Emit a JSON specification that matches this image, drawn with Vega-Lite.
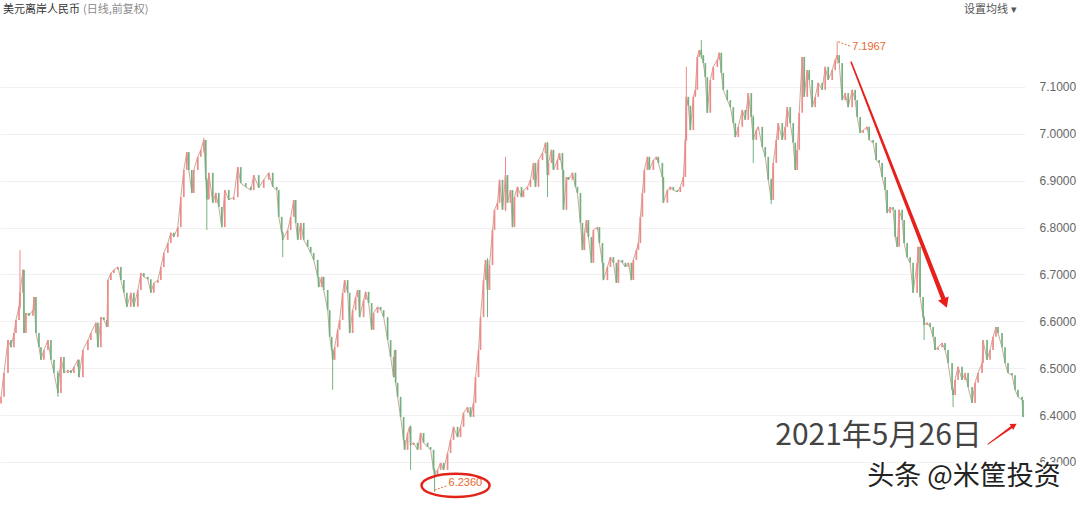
{
"$schema":"https://vega.github.io/schema/vega-lite/v6.json",
"width":1025,"height":486,
"autosize":{"type":"none"},
"padding":{"left":0,"top":20,"right":55,"bottom":0},
"background":"white",
"config":{"view":{"stroke":null},"font":"Noto Sans CJK SC",
 "axisY":{"orient":"right","format":".4f","grid":true,"gridColor":"#f0f0f0","gridWidth":1,"domain":false,"ticks":false,"tickSize":0,"labelPadding":14,"labelColor":"#666666","labelFont":"Liberation Sans","labelFontSize":12,"labelAlign":"left","labelBaseline":"middle","title":null}},
"datasets":{"k":[
{"x":0,"o":6.425,"c":6.439},{"x":3,"o":6.439,"c":6.490},{"x":7,"o":6.490,"c":6.560},{"x":10,"o":6.560,"c":6.545},{"x":13,"o":6.545,"c":6.575},{"x":15,"o":6.575,"c":6.603},{"x":18,"o":6.603,"c":6.631},{"x":19,"o":6.631,"c":6.661,"h":6.752,"l":6.625},{"x":22,"o":6.661,"c":6.710},{"x":23,"o":6.710,"c":6.575},{"x":25,"o":6.575,"c":6.618},{"x":28,"o":6.618,"c":6.612},{"x":32,"o":6.612,"c":6.624},{"x":33,"o":6.624,"c":6.652},{"x":35,"o":6.652,"c":6.575},{"x":38,"o":6.575,"c":6.545},{"x":40,"o":6.545,"c":6.518},{"x":43,"o":6.518,"c":6.539},{"x":47,"o":6.539,"c":6.560},{"x":50,"o":6.560,"c":6.518},{"x":53,"o":6.518,"c":6.490},{"x":57,"o":6.490,"c":6.447,"h":6.495,"l":6.439},{"x":60,"o":6.447,"c":6.524},{"x":63,"o":6.524,"c":6.490},{"x":67,"o":6.490,"c":6.496},{"x":70,"o":6.496,"c":6.490},{"x":73,"o":6.490,"c":6.503},{"x":77,"o":6.503,"c":6.518},{"x":78,"o":6.518,"c":6.481},{"x":82,"o":6.481,"c":6.539},{"x":87,"o":6.539,"c":6.560},{"x":90,"o":6.560,"c":6.575},{"x":95,"o":6.575,"c":6.597},{"x":97,"o":6.597,"c":6.545},{"x":100,"o":6.545,"c":6.609},{"x":103,"o":6.609,"c":6.603},{"x":106,"o":6.603,"c":6.588},{"x":107,"o":6.588,"c":6.688},{"x":110,"o":6.688,"c":6.703},{"x":113,"o":6.703,"c":6.710},{"x":117,"o":6.710,"c":6.716},{"x":120,"o":6.716,"c":6.688},{"x":123,"o":6.688,"c":6.661},{"x":126,"o":6.661,"c":6.631},{"x":130,"o":6.631,"c":6.661},{"x":133,"o":6.661,"c":6.631},{"x":137,"o":6.631,"c":6.667},{"x":140,"o":6.667,"c":6.703},{"x":143,"o":6.703,"c":6.695},{"x":147,"o":6.695,"c":6.690},{"x":150,"o":6.690,"c":6.661},{"x":153,"o":6.661,"c":6.682},{"x":157,"o":6.682,"c":6.688},{"x":160,"o":6.688,"c":6.716},{"x":163,"o":6.716,"c":6.746},{"x":167,"o":6.746,"c":6.767},{"x":170,"o":6.767,"c":6.789},{"x":173,"o":6.789,"c":6.780},{"x":177,"o":6.780,"c":6.801},{"x":180,"o":6.801,"c":6.865},{"x":183,"o":6.865,"c":6.923},{"x":186,"o":6.923,"c":6.961},{"x":188,"o":6.961,"c":6.923},{"x":191,"o":6.923,"c":6.874},{"x":193,"o":6.874,"c":6.923},{"x":197,"o":6.923,"c":6.951},{"x":200,"o":6.951,"c":6.966},{"x":203,"o":6.966,"c":6.987,"h":6.992,"l":6.960},{"x":205,"o":6.987,"c":6.902},{"x":206,"o":6.902,"c":6.860,"h":6.905,"l":6.795},{"x":208,"o":6.860,"c":6.917},{"x":212,"o":6.917,"c":6.853},{"x":215,"o":6.853,"c":6.874},{"x":218,"o":6.874,"c":6.844},{"x":221,"o":6.844,"c":6.801},{"x":224,"o":6.801,"c":6.880},{"x":228,"o":6.880,"c":6.859},{"x":233,"o":6.859,"c":6.865},{"x":237,"o":6.865,"c":6.929},{"x":240,"o":6.929,"c":6.895},{"x":245,"o":6.895,"c":6.887},{"x":250,"o":6.887,"c":6.880},
{"x":253,"o":6.880,"c":6.912},{"x":258,"o":6.912,"c":6.885},{"x":263,"o":6.885,"c":6.902},{"x":268,"o":6.902,"c":6.917},{"x":272,"o":6.917,"c":6.887},{"x":276,"o":6.887,"c":6.880},{"x":278,"o":6.880,"c":6.823},{"x":281,"o":6.823,"c":6.789},{"x":282,"o":6.789,"c":6.774,"h":6.792,"l":6.737},{"x":287,"o":6.774,"c":6.795},{"x":290,"o":6.795,"c":6.823},{"x":293,"o":6.823,"c":6.859},{"x":295,"o":6.859,"c":6.810},{"x":297,"o":6.810,"c":6.774},{"x":300,"o":6.774,"c":6.810},{"x":303,"o":6.810,"c":6.774},{"x":307,"o":6.774,"c":6.759},{"x":310,"o":6.759,"c":6.746},{"x":313,"o":6.746,"c":6.731},{"x":317,"o":6.731,"c":6.695},{"x":318,"o":6.695,"c":6.673},{"x":321,"o":6.673,"c":6.695},{"x":323,"o":6.695,"c":6.667},{"x":327,"o":6.667,"c":6.624},{"x":329,"o":6.624,"c":6.567},{"x":331,"o":6.567,"c":6.539},{"x":332,"o":6.539,"c":6.518,"h":6.541,"l":6.454},{"x":334,"o":6.518,"c":6.545},{"x":337,"o":6.545,"c":6.582},{"x":339,"o":6.582,"c":6.603},{"x":342,"o":6.603,"c":6.661},{"x":344,"o":6.661,"c":6.688},{"x":347,"o":6.688,"c":6.661},{"x":349,"o":6.661,"c":6.575},{"x":352,"o":6.575,"c":6.624},{"x":355,"o":6.624,"c":6.652},{"x":357,"o":6.652,"c":6.667},{"x":359,"o":6.667,"c":6.609},{"x":363,"o":6.609,"c":6.646},{"x":365,"o":6.646,"c":6.663},{"x":368,"o":6.663,"c":6.639},{"x":371,"o":6.639,"c":6.582},{"x":373,"o":6.582,"c":6.618},{"x":377,"o":6.618,"c":6.631},{"x":380,"o":6.631,"c":6.624},{"x":383,"o":6.624,"c":6.609},{"x":387,"o":6.609,"c":6.560},{"x":390,"o":6.560,"c":6.524},{"x":393,"o":6.524,"c":6.481},{"x":394,"o":6.481,"c":6.539},{"x":395,"o":6.539,"c":6.469},{"x":397,"o":6.469,"c":6.439},{"x":400,"o":6.439,"c":6.396},{"x":403,"o":6.396,"c":6.347},{"x":404,"o":6.347,"c":6.326},{"x":407,"o":6.326,"c":6.362},{"x":409,"o":6.362,"c":6.375},{"x":410,"o":6.375,"c":6.336,"h":6.378,"l":6.283},{"x":413,"o":6.336,"c":6.341},{"x":417,"o":6.341,"c":6.326},{"x":420,"o":6.326,"c":6.362},{"x":423,"o":6.362,"c":6.341},{"x":427,"o":6.341,"c":6.332},{"x":430,"o":6.332,"c":6.326},{"x":433,"o":6.326,"c":6.283},{"x":434,"o":6.283,"c":6.272,"h":6.286,"l":6.236},{"x":437,"o":6.272,"c":6.283},{"x":440,"o":6.283,"c":6.298},{"x":443,"o":6.298,"c":6.283},{"x":447,"o":6.283,"c":6.319},{"x":450,"o":6.319,"c":6.347},{"x":453,"o":6.347,"c":6.375},{"x":457,"o":6.375,"c":6.353},{"x":460,"o":6.353,"c":6.375},{"x":463,"o":6.375,"c":6.405},{"x":467,"o":6.405,"c":6.417},{"x":470,"o":6.417,"c":6.396},{"x":473,"o":6.396,"c":6.426},{"x":475,"o":6.426,"c":6.481},{"x":478,"o":6.481,"c":6.539},{"x":480,"o":6.539,"c":6.609},{"x":483,"o":6.609,"c":6.688},{"x":485,"o":6.688,"c":6.731},{"x":487,"o":6.731,"c":6.667,"h":6.735,"l":6.609},{"x":489,"o":6.667,"c":6.720},{"x":492,"o":6.720,"c":6.795},{"x":494,"o":6.795,"c":6.838},{"x":497,"o":6.838,"c":6.853},{"x":499,"o":6.853,"c":6.902},{"x":502,"o":6.902,"c":6.838},{"x":505,"o":6.838,"c":6.912,"h":6.951,"l":6.835},{"x":507,"o":6.912,"c":6.853},
{"x":510,"o":6.853,"c":6.880},{"x":512,"o":6.880,"c":6.801},{"x":514,"o":6.801,"c":6.865},{"x":517,"o":6.865,"c":6.887},{"x":521,"o":6.887,"c":6.865},{"x":523,"o":6.865,"c":6.880},{"x":527,"o":6.880,"c":6.887},{"x":530,"o":6.887,"c":6.902},{"x":533,"o":6.902,"c":6.938},{"x":535,"o":6.938,"c":6.887},{"x":538,"o":6.887,"c":6.944},{"x":542,"o":6.944,"c":6.959},{"x":545,"o":6.959,"c":6.981},{"x":547,"o":6.981,"c":6.912,"h":6.983,"l":6.865},{"x":548,"o":6.912,"c":6.938},{"x":551,"o":6.938,"c":6.966},{"x":553,"o":6.966,"c":6.923},{"x":557,"o":6.923,"c":6.944},{"x":559,"o":6.944,"c":6.959},{"x":562,"o":6.959,"c":6.923},{"x":563,"o":6.923,"c":6.838},{"x":566,"o":6.838,"c":6.908},{"x":568,"o":6.908,"c":6.902},{"x":572,"o":6.902,"c":6.917},{"x":575,"o":6.917,"c":6.887},{"x":577,"o":6.887,"c":6.874},{"x":580,"o":6.874,"c":6.810},{"x":582,"o":6.810,"c":6.752},{"x":584,"o":6.752,"c":6.789},{"x":586,"o":6.789,"c":6.816},{"x":588,"o":6.816,"c":6.780},{"x":591,"o":6.780,"c":6.725},{"x":593,"o":6.725,"c":6.795},{"x":597,"o":6.795,"c":6.801},{"x":599,"o":6.801,"c":6.767},{"x":602,"o":6.767,"c":6.725},{"x":603,"o":6.725,"c":6.688},{"x":607,"o":6.688,"c":6.716},{"x":610,"o":6.716,"c":6.737},{"x":613,"o":6.737,"c":6.725},{"x":616,"o":6.725,"c":6.682},{"x":618,"o":6.682,"c":6.731},{"x":622,"o":6.731,"c":6.725},{"x":625,"o":6.725,"c":6.716},{"x":628,"o":6.716,"c":6.725},{"x":631,"o":6.725,"c":6.688},{"x":633,"o":6.688,"c":6.731},{"x":636,"o":6.731,"c":6.752},{"x":638,"o":6.752,"c":6.767},{"x":640,"o":6.767,"c":6.823},{"x":642,"o":6.823,"c":6.874},{"x":644,"o":6.874,"c":6.923},{"x":647,"o":6.923,"c":6.951},{"x":649,"o":6.951,"c":6.923},{"x":653,"o":6.923,"c":6.944},{"x":656,"o":6.944,"c":6.951},{"x":658,"o":6.951,"c":6.938},{"x":662,"o":6.938,"c":6.908},{"x":663,"o":6.908,"c":6.853},{"x":667,"o":6.853,"c":6.880},{"x":670,"o":6.880,"c":6.887},{"x":673,"o":6.887,"c":6.880},{"x":677,"o":6.880,"c":6.876},{"x":680,"o":6.876,"c":6.887},{"x":683,"o":6.887,"c":6.908},{"x":685,"o":6.908,"c":6.987},{"x":686,"o":6.987,"c":7.079,"h":7.143,"l":6.985},{"x":688,"o":7.079,"c":7.060},{"x":690,"o":7.060,"c":7.008},{"x":693,"o":7.008,"c":7.079},{"x":695,"o":7.079,"c":7.094},{"x":697,"o":7.094,"c":7.164},{"x":699,"o":7.164,"c":7.179},{"x":701,"o":7.179,"c":7.168,"h":7.200,"l":7.160},{"x":703,"o":7.168,"c":7.151},{"x":705,"o":7.151,"c":7.121},{"x":707,"o":7.121,"c":7.045},{"x":710,"o":7.045,"c":7.115},{"x":713,"o":7.115,"c":7.143},{"x":717,"o":7.143,"c":7.158},{"x":719,"o":7.158,"c":7.173},{"x":721,"o":7.173,"c":7.130},{"x":723,"o":7.130,"c":7.094},{"x":727,"o":7.094,"c":7.072},{"x":730,"o":7.072,"c":7.057},{"x":733,"o":7.057,"c":7.023},{"x":735,"o":7.023,"c":6.993},{"x":738,"o":6.993,"c":7.015},{"x":742,"o":7.015,"c":7.051},{"x":745,"o":7.051,"c":7.030},{"x":748,"o":7.030,"c":7.087},{"x":751,"o":7.087,"c":7.036},{"x":753,"o":7.036,"c":6.987,"h":7.040,"l":6.938},{"x":756,"o":6.987,"c":7.008},
{"x":758,"o":7.008,"c":7.015},{"x":762,"o":7.015,"c":6.972},{"x":765,"o":6.972,"c":6.951},{"x":768,"o":6.951,"c":6.902},{"x":771,"o":6.902,"c":6.859,"h":6.905,"l":6.850},{"x":773,"o":6.859,"c":6.938},{"x":776,"o":6.938,"c":6.987},{"x":778,"o":6.987,"c":7.023},{"x":782,"o":7.023,"c":6.987},{"x":785,"o":6.987,"c":7.015},{"x":787,"o":7.015,"c":7.057},{"x":790,"o":7.057,"c":7.023},{"x":793,"o":7.023,"c":6.981},{"x":795,"o":6.981,"c":6.923},{"x":797,"o":6.923,"c":6.966},{"x":799,"o":6.966,"c":7.045},{"x":802,"o":7.045,"c":7.164},{"x":804,"o":7.164,"c":7.079},{"x":807,"o":7.079,"c":7.136},{"x":809,"o":7.136,"c":7.115},{"x":812,"o":7.115,"c":7.057},{"x":815,"o":7.057,"c":7.079},{"x":818,"o":7.079,"c":7.109},{"x":822,"o":7.109,"c":7.094},{"x":825,"o":7.094,"c":7.143},{"x":828,"o":7.143,"c":7.115},{"x":832,"o":7.115,"c":7.136},{"x":835,"o":7.136,"c":7.158},{"x":837,"o":7.158,"c":7.168,"h":7.1967,"l":7.150},{"x":839,"o":7.168,"c":7.151},{"x":842,"o":7.151,"c":7.072},{"x":845,"o":7.072,"c":7.087},{"x":848,"o":7.087,"c":7.057},{"x":852,"o":7.057,"c":7.094},{"x":855,"o":7.094,"c":7.072},{"x":857,"o":7.072,"c":7.036},{"x":860,"o":7.036,"c":7.002},{"x":863,"o":7.002,"c":7.008},{"x":867,"o":7.008,"c":7.015},{"x":869,"o":7.015,"c":6.987},{"x":873,"o":6.987,"c":6.981},{"x":876,"o":6.981,"c":6.944},{"x":879,"o":6.944,"c":6.938},{"x":882,"o":6.938,"c":6.908},{"x":885,"o":6.908,"c":6.880},{"x":887,"o":6.880,"c":6.831},{"x":890,"o":6.831,"c":6.844},{"x":893,"o":6.844,"c":6.838},{"x":895,"o":6.838,"c":6.780},{"x":897,"o":6.780,"c":6.759},{"x":899,"o":6.759,"c":6.838},{"x":902,"o":6.838,"c":6.816},{"x":904,"o":6.816,"c":6.767},{"x":907,"o":6.767,"c":6.737},{"x":910,"o":6.737,"c":6.725},{"x":913,"o":6.725,"c":6.661},{"x":917,"o":6.661,"c":6.725},{"x":918,"o":6.725,"c":6.759},{"x":920,"o":6.759,"c":6.652},{"x":923,"o":6.652,"c":6.609},{"x":924,"o":6.609,"c":6.592,"h":6.612,"l":6.560},{"x":927,"o":6.592,"c":6.597},{"x":930,"o":6.597,"c":6.588},{"x":933,"o":6.588,"c":6.567},{"x":935,"o":6.567,"c":6.539},{"x":938,"o":6.539,"c":6.545},{"x":942,"o":6.545,"c":6.554},{"x":945,"o":6.554,"c":6.539},{"x":948,"o":6.539,"c":6.511},{"x":952,"o":6.511,"c":6.454},{"x":953,"o":6.454,"c":6.443,"h":6.456,"l":6.417},{"x":955,"o":6.443,"c":6.475},{"x":958,"o":6.475,"c":6.503},{"x":962,"o":6.503,"c":6.475},{"x":965,"o":6.475,"c":6.490},{"x":968,"o":6.490,"c":6.460},{"x":972,"o":6.460,"c":6.426},{"x":975,"o":6.426,"c":6.469},{"x":978,"o":6.469,"c":6.490},{"x":982,"o":6.490,"c":6.511},{"x":983,"o":6.511,"c":6.560},{"x":987,"o":6.560,"c":6.518},{"x":990,"o":6.518,"c":6.539},{"x":993,"o":6.539,"c":6.567},{"x":996,"o":6.567,"c":6.588},{"x":998,"o":6.588,"c":6.575},{"x":1002,"o":6.575,"c":6.545},{"x":1005,"o":6.545,"c":6.511},{"x":1008,"o":6.511,"c":6.490},{"x":1012,"o":6.490,"c":6.485},{"x":1015,"o":6.485,"c":6.454},{"x":1018,"o":6.454,"c":6.439},{"x":1022,"o":6.439,"c":6.432},{"x":1023,"o":6.432,"c":6.396}
]},
"layer":[
{"data":{"name":"k"},
 "mark":{"type":"line","strokeWidth":1,"color":"#c9a898"},
 "encoding":{"x":{"field":"x","type":"quantitative","scale":{"domain":[-1,1025],"nice":false,"zero":false},"axis":null},
 "y":{"field":"c","type":"quantitative","scale":{"domain":[6.2061,7.2429],"nice":false,"zero":false},
  "axis":{"values":[6.3,6.4,6.5,6.6,6.7,6.8,6.9,7.0,7.1],"title":null}}}},
{"data":{"name":"k"},
 "mark":{"type":"rule","strokeWidth":1.7},
 "encoding":{"x":{"field":"x","type":"quantitative","scale":{"domain":[-1,1025],"nice":false,"zero":false},"axis":null},
 "y":{"field":"o","type":"quantitative","scale":{"domain":[6.2061,7.2429],"nice":false,"zero":false},
  "axis":{"values":[6.3,6.4,6.5,6.6,6.7,6.8,6.9,7.0,7.1],"title":null}},
 "y2":{"field":"c"},
 "color":{"condition":{"test":"datum.c>=datum.o","value":"#ee8a88"},"value":"#72b281"}}},
{"data":{"name":"k"},"transform":[{"filter":"isValid(datum.h)"}],
 "mark":{"type":"rule","strokeWidth":1},
 "encoding":{"x":{"field":"x","type":"quantitative","scale":{"domain":[-1,1025],"nice":false,"zero":false},"axis":null},
 "y":{"field":"l","type":"quantitative","scale":{"domain":[6.2061,7.2429],"nice":false,"zero":false},"axis":{"values":[6.3,6.4,6.5,6.6,6.7,6.8,6.9,7.0,7.1],"title":null}},"y2":{"field":"h"},
 "color":{"condition":{"test":"datum.c>=datum.o","value":"#ee8a88"},"value":"#72b281"}}},
{"mark":{"type":"rule","color":"#eeeeee","strokeWidth":1},
 "encoding":{"x":{"datum":0,"type":"quantitative","scale":{"domain":[-1,1025],"nice":false,"zero":false},"axis":null},"x2":{"datum":1017},
 "y":{"datum":7.2429,"type":"quantitative","scale":{"domain":[6.2061,7.2429],"nice":false,"zero":false},"axis":{"values":[6.3,6.4,6.5,6.6,6.7,6.8,6.9,7.0,7.1],"title":null}}}},
{"mark":{"type":"rule","color":"#e6e6e6","strokeWidth":1},
 "encoding":{"x":{"datum":1025,"type":"quantitative","scale":{"domain":[-1,1025],"nice":false,"zero":false},"axis":null},
 "y":{"datum":7.2856,"type":"quantitative","scale":{"domain":[6.2061,7.2429],"nice":false,"zero":false},"axis":{"values":[6.3,6.4,6.5,6.6,6.7,6.8,6.9,7.0,7.1],"title":null}},"y2":{"datum":6.2061}}},
{"data":{"values":[{"x":838,"y":7.1967},{"x":850,"y":7.187}]},
 "mark":{"type":"line","color":"#e8692d","strokeWidth":1,"strokeDash":[2,1.5]},
 "encoding":{"x":{"field":"x","type":"quantitative","scale":{"domain":[-1,1025],"nice":false,"zero":false},"axis":null},
 "y":{"field":"y","type":"quantitative","scale":{"domain":[6.2061,7.2429],"nice":false,"zero":false},"axis":{"values":[6.3,6.4,6.5,6.6,6.7,6.8,6.9,7.0,7.1],"title":null}}}},
{"data":{"values":[{"x":434,"y":6.240},{"x":446,"y":6.249}]},
 "mark":{"type":"line","color":"#e8692d","strokeWidth":1,"strokeDash":[2,1.5]},
 "encoding":{"x":{"field":"x","type":"quantitative","scale":{"domain":[-1,1025],"nice":false,"zero":false},"axis":null},
 "y":{"field":"y","type":"quantitative","scale":{"domain":[6.2061,7.2429],"nice":false,"zero":false},"axis":{"values":[6.3,6.4,6.5,6.6,6.7,6.8,6.9,7.0,7.1],"title":null}}}},
{"data":{"values":[{"x":852,"y":7.1853,"t":"7.1967"},{"x":448,"y":6.255,"t":"6.2360"}]},
 "mark":{"type":"text","align":"left","baseline":"middle","fontSize":11,"color":"#e8692d","font":"Liberation Sans"},
 "encoding":{"x":{"field":"x","type":"quantitative","scale":{"domain":[-1,1025],"nice":false,"zero":false},"axis":null},
 "y":{"field":"y","type":"quantitative","scale":{"domain":[6.2061,7.2429],"nice":false,"zero":false},"axis":{"values":[6.3,6.4,6.5,6.6,6.7,6.8,6.9,7.0,7.1],"title":null}},"text":{"field":"t"}}},
{"data":{"values":[{"x":455,"y":6.250}]},
 "mark":{"type":"point","shape":"M -1 0 A 1 0.34 0 1 1 1 0 A 1 0.34 0 1 1 -1 0 Z","size":4624,"filled":false,"stroke":"#e2231a","strokeWidth":2.5,"opacity":1},
 "encoding":{"x":{"field":"x","type":"quantitative","scale":{"domain":[-1,1025],"nice":false,"zero":false},"axis":null},
 "y":{"field":"y","type":"quantitative","scale":{"domain":[6.2061,7.2429],"nice":false,"zero":false},"axis":{"values":[6.3,6.4,6.5,6.6,6.7,6.8,6.9,7.0,7.1],"title":null}}}},
{"data":{"values":[{"x":851,"y":7.153,"w":1.5},{"x":943,"y":6.650,"w":4.5}]},
 "mark":{"type":"trail","color":"#e8201c"},
 "encoding":{"x":{"field":"x","type":"quantitative","scale":{"domain":[-1,1025],"nice":false,"zero":false},"axis":null},
 "y":{"field":"y","type":"quantitative","scale":{"domain":[6.2061,7.2429],"nice":false,"zero":false},"axis":{"values":[6.3,6.4,6.5,6.6,6.7,6.8,6.9,7.0,7.1],"title":null}},
 "size":{"field":"w","type":"quantitative","scale":null,"legend":null}}},
{"data":{"values":[{"x":945,"y":6.639}]},
 "mark":{"type":"point","shape":"triangle-down","angle":339,"size":130,"filled":true,"color":"#e8201c","opacity":1},
 "encoding":{"x":{"field":"x","type":"quantitative","scale":{"domain":[-1,1025],"nice":false,"zero":false},"axis":null},
 "y":{"field":"y","type":"quantitative","scale":{"domain":[6.2061,7.2429],"nice":false,"zero":false},"axis":{"values":[6.3,6.4,6.5,6.6,6.7,6.8,6.9,7.0,7.1],"title":null}}}},
{"data":{"values":[{"x":988,"y":6.338,"w":1},{"x":1012,"y":6.375,"w":2.5}]},
 "mark":{"type":"trail","color":"#e8201c"},
 "encoding":{"x":{"field":"x","type":"quantitative","scale":{"domain":[-1,1025],"nice":false,"zero":false},"axis":null},
 "y":{"field":"y","type":"quantitative","scale":{"domain":[6.2061,7.2429],"nice":false,"zero":false},"axis":{"values":[6.3,6.4,6.5,6.6,6.7,6.8,6.9,7.0,7.1],"title":null}},
 "size":{"field":"w","type":"quantitative","scale":null,"legend":null}}},
{"data":{"values":[{"x":1014,"y":6.378}]},
 "mark":{"type":"point","shape":"triangle-up","angle":59,"size":50,"filled":true,"color":"#e8201c","opacity":1},
 "encoding":{"x":{"field":"x","type":"quantitative","scale":{"domain":[-1,1025],"nice":false,"zero":false},"axis":null},
 "y":{"field":"y","type":"quantitative","scale":{"domain":[6.2061,7.2429],"nice":false,"zero":false},"axis":{"values":[6.3,6.4,6.5,6.6,6.7,6.8,6.9,7.0,7.1],"title":null}}}},
{"data":{"values":[{"x":775,"y":6.355,"t":"2021年5月26日"}]},
 "mark":{"type":"text","align":"left","baseline":"middle","fontSize":30,"color":"#444444"},
 "encoding":{"x":{"field":"x","type":"quantitative","scale":{"domain":[-1,1025],"nice":false,"zero":false},"axis":null},
 "y":{"field":"y","type":"quantitative","scale":{"domain":[6.2061,7.2429],"nice":false,"zero":false},"axis":{"values":[6.3,6.4,6.5,6.6,6.7,6.8,6.9,7.0,7.1],"title":null}},"text":{"field":"t"}}},
{"data":{"values":[{"x":867,"y":6.268,"t":"头条 @米筐投资"}]},
 "mark":{"type":"text","align":"left","baseline":"middle","fontSize":27,"color":"#ffffff","stroke":"#ffffff","strokeWidth":4},
 "encoding":{"x":{"field":"x","type":"quantitative","scale":{"domain":[-1,1025],"nice":false,"zero":false},"axis":null},
 "y":{"field":"y","type":"quantitative","scale":{"domain":[6.2061,7.2429],"nice":false,"zero":false},"axis":{"values":[6.3,6.4,6.5,6.6,6.7,6.8,6.9,7.0,7.1],"title":null}},"text":{"field":"t"}}},
{"data":{"values":[{"x":867,"y":6.268,"t":"头条 @米筐投资"}]},
 "mark":{"type":"text","align":"left","baseline":"middle","fontSize":27,"color":"#222222"},
 "encoding":{"x":{"field":"x","type":"quantitative","scale":{"domain":[-1,1025],"nice":false,"zero":false},"axis":null},
 "y":{"field":"y","type":"quantitative","scale":{"domain":[6.2061,7.2429],"nice":false,"zero":false},"axis":{"values":[6.3,6.4,6.5,6.6,6.7,6.8,6.9,7.0,7.1],"title":null}},"text":{"field":"t"}}},
{"data":{"values":[{"x":2,"y":7.2642,"t":"美元离岸人民币","k":"a"},{"x":82,"y":7.2642,"t":"(日线,前复权)","k":"b"},{"x":964,"y":7.2642,"t":"设置均线 ▾","k":"c"}]},
 "mark":{"type":"text","align":"left","baseline":"middle","fontSize":11},
 "encoding":{"x":{"field":"x","type":"quantitative","scale":{"domain":[-1,1025],"nice":false,"zero":false},"axis":null},
 "y":{"field":"y","type":"quantitative","scale":{"domain":[6.2061,7.2429],"nice":false,"zero":false},"axis":{"values":[6.3,6.4,6.5,6.6,6.7,6.8,6.9,7.0,7.1],"title":null}},"text":{"field":"t"},
 "color":{"field":"k","type":"nominal","scale":{"domain":["a","b","c"],"range":["#333333","#8a8a8a","#555555"]},"legend":null}}}
]
}
